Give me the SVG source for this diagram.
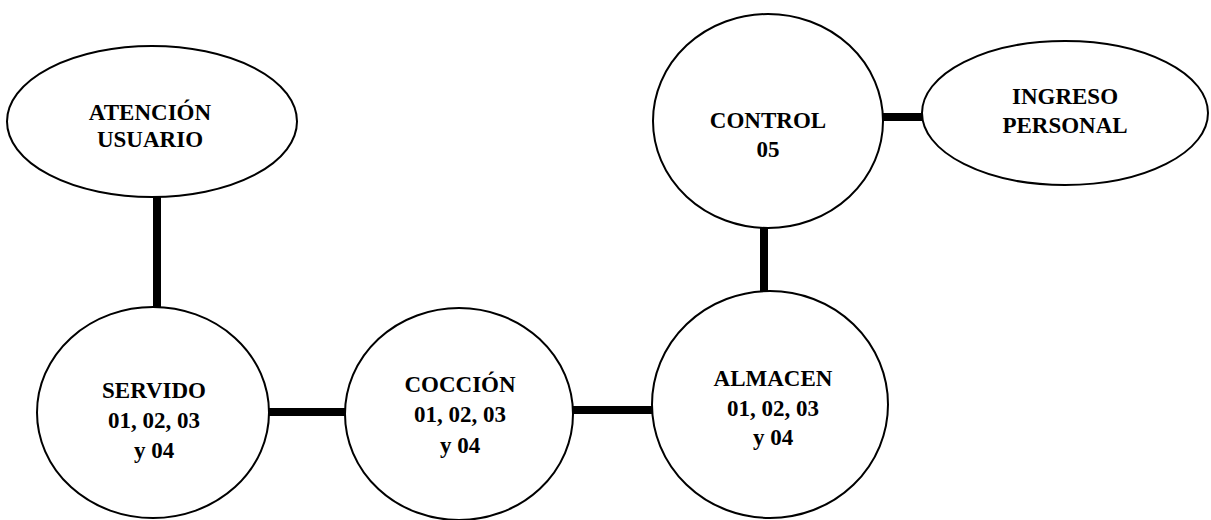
<svg xmlns="http://www.w3.org/2000/svg" width="1211" height="520" viewBox="0 0 1211 520">
<style>
.n{fill:#fff;stroke:#000;stroke-width:2}
.c{stroke:#000;stroke-width:8;fill:none}
.t{font-family:"Liberation Serif","Times New Roman",serif;font-weight:bold;font-size:23px;fill:#000;text-anchor:middle}
</style>
<rect width="1211" height="520" fill="#fff"/>
<g id="connectors">
<line class="c" x1="157" y1="197" x2="157" y2="308"/>
<line class="c" x1="268" y1="412" x2="346" y2="412"/>
<line class="c" x1="572" y1="410" x2="653" y2="410"/>
<line class="c" x1="764" y1="227" x2="764" y2="291"/>
<line class="c" x1="882" y1="117" x2="923" y2="117"/>
</g>
<g id="atencion">
<ellipse class="n" cx="152" cy="121.5" rx="145" ry="75.5"/>
<text class="t" x="150" y="120">ATENCIÓN</text>
<text class="t" x="150" y="147">USUARIO</text>
</g>
<g id="servido">
<ellipse class="n" cx="153" cy="412.5" rx="116" ry="105.5"/>
<text class="t" x="154" y="398">SERVIDO</text>
<text class="t" x="154" y="428">01, 02, 03</text>
<text class="t" x="154" y="458">y 04</text>
</g>
<g id="coccion">
<ellipse class="n" cx="459" cy="414" rx="114" ry="106"/>
<text class="t" x="460" y="392">COCCIÓN</text>
<text class="t" x="460" y="422">01, 02, 03</text>
<text class="t" x="460" y="453">y 04</text>
</g>
<g id="almacen">
<ellipse class="n" cx="770" cy="404.5" rx="118" ry="113.5"/>
<text class="t" x="773" y="386">ALMACEN</text>
<text class="t" x="773" y="416">01, 02, 03</text>
<text class="t" x="773" y="445">y 04</text>
</g>
<g id="control">
<ellipse class="n" cx="768" cy="121" rx="115" ry="107"/>
<text class="t" x="768" y="128">CONTROL</text>
<text class="t" x="768" y="157">05</text>
</g>
<g id="ingreso">
<ellipse class="n" cx="1065" cy="113" rx="143" ry="72"/>
<text class="t" x="1065" y="104">INGRESO</text>
<text class="t" x="1065" y="133">PERSONAL</text>
</g>
</svg>
